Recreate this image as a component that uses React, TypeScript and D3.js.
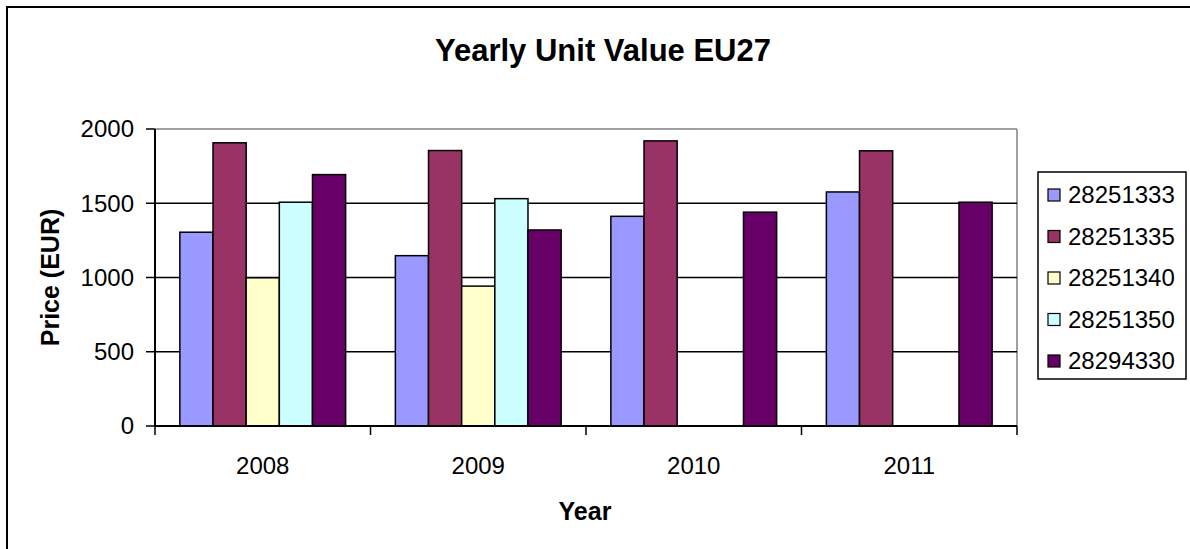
import React from "react";
import * as d3 from "d3";

const years = ["2008", "2009", "2010", "2011"];
const seriesNames = ["28251333", "28251335", "28251340", "28251350", "28294330"];
const seriesColors = ["#9999FF", "#993366", "#FFFFCC", "#CCFFFF", "#660066"];

const s28251333 = [1305, 1147, 1412, 1576];
const s28251335 = [1907, 1855, 1920, 1853];
const s28251340 = [998, 942, null, null];
const s28251350 = [1507, 1531, null, null];
const s28294330 = [1693, 1320, 1440, 1507];

const yTicks = [0, 500, 1000, 1500, 2000];

const seriesValues = [s28251333, s28251335, s28251340, s28251350, s28294330];

const W = 1190;
const H = 549;
const plot = { left: 155, right: 1017, top: 129, bottom: 426 };
const FONT = "'Liberation Sans', Arial, sans-serif";

export default function App() {
  const x0 = d3.scaleBand().domain(years).range([plot.left, plot.right]).padding(0);
  const x1 = d3
    .scaleBand()
    .domain(seriesNames)
    .range([0, x0.bandwidth()])
    .paddingInner(0)
    .paddingOuter(0.75);
  const y = d3.scaleLinear().domain([0, 2000]).range([plot.bottom, plot.top]);

  const bars: { key: string; x: number; y: number; w: number; h: number; fill: string }[] = [];
  years.forEach((yr, i) => {
    seriesNames.forEach((s, j) => {
      const v = seriesValues[j][i];
      if (v == null) return;
      bars.push({
        key: yr + s,
        x: x0(yr)! + x1(s)!,
        y: y(v),
        w: x1.bandwidth(),
        h: y(0) - y(v),
        fill: seriesColors[j],
      });
    });
  });

  const catEdges = [...years.map((d) => x0(d)!), plot.right];
  const legendTop = 172;
  const legendStep = 41.5;

  return (
    <svg
      width={W}
      height={H}
      style={{ position: "absolute", left: 0, top: 0, background: "#fff" }}
      fontFamily={FONT}
    >
      <rect x={0} y={0} width={W} height={H} fill="#fff" />
      {/* chart border */}
      <rect x={7} y={7} width={1300} height={700} fill="none" stroke="#000" strokeWidth={2} />

      <text x={603} y={61} textAnchor="middle" fontSize={31} fontWeight="bold">
        Yearly Unit Value EU27
      </text>

      {/* plot frame */}
      <line x1={plot.left} x2={plot.right} y1={plot.top} y2={plot.top} stroke="#808080" strokeWidth={1.5} />
      <line x1={plot.right} x2={plot.right} y1={plot.top} y2={plot.bottom} stroke="#808080" strokeWidth={1.5} />

      {/* gridlines */}
      {yTicks.slice(1, -1).map((t) => (
        <line key={t} x1={plot.left} x2={plot.right} y1={y(t)} y2={y(t)} stroke="#000" strokeWidth={1.5} />
      ))}

      {/* bars */}
      {bars.map((b) => (
        <rect key={b.key} x={b.x} y={b.y} width={b.w} height={b.h} fill={b.fill} stroke="#000" strokeWidth={1.5} />
      ))}

      {/* y axis */}
      <line x1={plot.left} x2={plot.left} y1={plot.top} y2={plot.bottom} stroke="#000" strokeWidth={2} />
      {yTicks.map((t) => (
        <g key={t}>
          <line x1={plot.left - 9} x2={plot.left} y1={y(t)} y2={y(t)} stroke="#000" strokeWidth={1.5} />
          <text x={134} y={y(t)} dy="0.35em" textAnchor="end" fontSize={24}>
            {t}
          </text>
        </g>
      ))}

      {/* x axis */}
      <line x1={plot.left} x2={plot.right} y1={plot.bottom} y2={plot.bottom} stroke="#000" strokeWidth={2} />
      {catEdges.map((e, i) => (
        <line key={i} x1={e} x2={e} y1={plot.bottom} y2={plot.bottom + 9} stroke="#000" strokeWidth={1.5} />
      ))}
      {years.map((yr) => (
        <text key={yr} x={x0(yr)! + x0.bandwidth() / 2} y={474} textAnchor="middle" fontSize={24}>
          {yr}
        </text>
      ))}

      <text x={585} y={520} textAnchor="middle" fontSize={25} fontWeight="bold">
        Year
      </text>
      <text
        transform={`translate(59,${(plot.top + plot.bottom) / 2}) rotate(-90)`}
        textAnchor="middle"
        fontSize={25}
        fontWeight="bold"
      >
        Price (EUR)
      </text>

      {/* legend */}
      <rect x={1038} y={legendTop} width={148} height={207} fill="#fff" stroke="#000" strokeWidth={1.5} />
      {seriesNames.map((s, i) => {
        const cy = legendTop + 23 + i * legendStep;
        return (
          <g key={s}>
            <rect x={1048} y={cy - 6} width={12} height={12} fill={seriesColors[i]} stroke="#000" strokeWidth={1.2} />
            <text x={1068} y={cy} dy="0.35em" fontSize={24}>
              {s}
            </text>
          </g>
        );
      })}
    </svg>
  );
}
